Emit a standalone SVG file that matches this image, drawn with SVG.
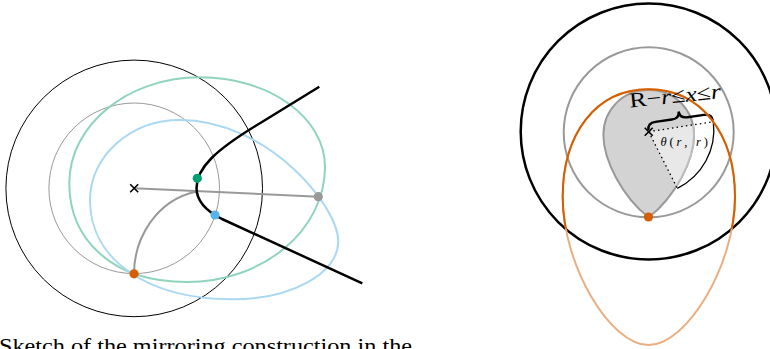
<svg xmlns="http://www.w3.org/2000/svg" width="770" height="349" viewBox="0 0 770 349">
<style>
.thin{fill:none;stroke:#000;stroke-width:1}
.thingray{fill:none;stroke:#999;stroke-width:1}
.gray2{fill:none;stroke:#999;stroke-width:2}
.green{fill:none;stroke:#8fd4bb;stroke-width:2}
.blue{fill:none;stroke:#aad8f2;stroke-width:2}
.hyp{fill:none;stroke:#000;stroke-width:2.5;stroke-linejoin:round}
.xm{fill:none;stroke:#000;stroke-width:1.6}
.dot{stroke:none}
.dotted{fill:none;stroke:#000;stroke-width:1.3;stroke-dasharray:1.5 3.2}
.math{font-family:"Liberation Serif","DejaVu Serif",serif;fill:#000}
</style>
<defs>
<clipPath id="inBig"><circle cx="648.7" cy="131.5" r="128"/></clipPath>
<clipPath id="sector"><path d="M648.7,131.7 L713.3,121.7 A65,65 0 0 1 677.3,188.3 Z"/></clipPath>
<path id="tear" d="M648.7,90 C675,90 694,110 694,135 C694,160 675,197 648.7,217.3 C622.4,197 603.4,160 603.4,135 C603.4,110 622.4,90 648.7,90 Z"/>
<path id="egg" d="M648.5,89.3 C702,89.3 735,135 735,197 C735,265 687,345 648.5,345 C610,345 562.7,265 562.7,197 C562.7,135 595,89.3 648.5,89.3 Z"/>
</defs>

<!-- LEFT PANEL -->
<g id="left-outer-circle"><circle class="thin" cx="134.2" cy="188.4" r="128.3"/></g>
<g id="left-inner-circle"><circle class="thingray" cx="134.2" cy="188.3" r="85.3"/></g>
<g id="green-curve"><path class="green" d="M200,77.3 C269,77.3 325,117.3 325,166.7 C325,230.4 263.1,282 186.7,282 C110,282 69.3,237.8 69.3,183.3 C69.3,124.8 127.8,77.3 200,77.3 Z"/></g>
<g id="blue-curve"><path class="blue" d="M180,120 C267,120 338.3,205.2 338.3,241.7 C338.3,273.4 291,299.3 233.3,299.3 C147.3,299.3 90,259.6 90,200 C90,156 130.5,120 180,120 Z"/></g>
<g id="connectors">
<path class="gray2" d="M134.2,188.3 L318.3,196.7"/>
<path class="gray2" d="M134,274 C134,240 155,200 197,191.5"/>
</g>
<g id="hyperbola"><path class="hyp" d="M319.3,86.7 L262,122 C215,150 196.5,168 196.5,188 C196.5,202 207,211.5 222,219 L362.3,283.3"/></g>
<g id="left-center"><path class="xm" d="M130.2,184.3 L138.2,192.3 M130.2,192.3 L138.2,184.3"/></g>
<g id="dot-green"><circle class="dot" cx="197.3" cy="178.3" r="4.6" fill="#009e73"/></g>
<g id="dot-blue"><circle class="dot" cx="215" cy="215" r="4.6" fill="#56b4e9"/></g>
<g id="dot-gray"><circle class="dot" cx="318.3" cy="196.7" r="4.6" fill="#999"/></g>
<g id="dot-orange-left"><circle class="dot" cx="134" cy="273.8" r="4.6" fill="#d55e00"/></g>

<g id="caption"><text x="-1" y="353" font-family="'Liberation Serif','DejaVu Serif',serif" font-size="22" textLength="413" lengthAdjust="spacingAndGlyphs">Sketch of the mirroring construction in the</text></g>

<!-- RIGHT PANEL -->
<g id="right-outer-circle"><circle cx="648.7" cy="131.5" r="128" fill="none" stroke="#000" stroke-width="2.5"/></g>
<g id="right-inner-circle"><circle cx="648.7" cy="132.3" r="85" fill="none" stroke="#999" stroke-width="2"/></g>
<g id="teardrop">
<use href="#tear" fill="#d3d3d3" stroke="#999" stroke-width="2"/>
<use href="#tear" fill="#e8e8e8" stroke="#bdbdbd" stroke-width="2" clip-path="url(#sector)"/>
</g>
<g id="angle">
<path class="dotted" d="M648.7,131.7 L713.3,121.7 M648.7,131.7 L677.3,188.3"/>
<path d="M713.3,121.7 A65,65 0 0 1 677.3,188.3" fill="none" stroke="#000" stroke-width="1.3"/>
<path d="M0,0 C0,-5 3,-7 8,-7 L24.5,-7 C29.5,-7 32.5,-9 32.5,-14 C32.5,-9 35.5,-7 40.5,-7 L57,-7 C62,-7 65,-5 65,0" transform="translate(648.5,130) rotate(-8.3)" fill="none" stroke="#000" stroke-width="2.4"/>
</g>
<g id="right-center"><path class="xm" d="M644.7,127.7 L652.7,135.7 M644.7,135.7 L652.7,127.7"/></g>
<g id="orange-curve">
<use href="#egg" fill="none" stroke="#eaae80" stroke-width="2"/>
<use href="#egg" fill="none" stroke="#d55e00" stroke-width="2" clip-path="url(#inBig)"/>
</g>
<g id="labels">
<text class="math" font-size="21" x="630" y="107.5" transform="rotate(-6 630 107.5)" textLength="92" lengthAdjust="spacingAndGlyphs">R−<tspan font-style="italic">r</tspan>≤<tspan font-style="italic">x</tspan>≤<tspan font-style="italic">r</tspan></text>
<text class="math" font-size="12.5" x="660.5" y="145.5" textLength="47.5" lengthAdjust="spacing"><tspan font-style="italic">θ</tspan>(<tspan font-style="italic">r</tspan>, <tspan font-style="italic">r</tspan>)</text>
</g>
<g id="dot-orange-right"><circle class="dot" cx="648.5" cy="217" r="4.6" fill="#d55e00"/></g>
</svg>
